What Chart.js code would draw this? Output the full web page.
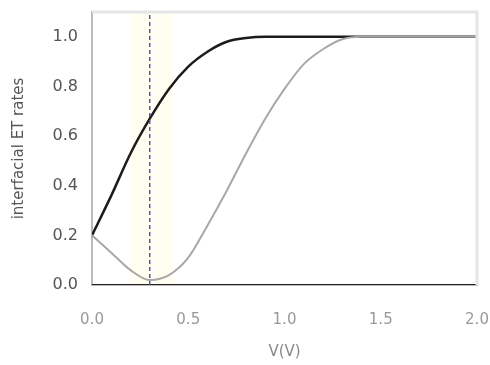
<!DOCTYPE html>
<html>
<head>
<meta charset="utf-8">
<script src="https://cdn.jsdelivr.net/npm/chart.js@4/dist/chart.umd.min.js"></script>
<style>
  html, body { margin: 0; padding: 0; background: #fff; }
</style>
</head>
<body>
<canvas id="etChart" width="490" height="365"></canvas>
<script>
// potential (V) sample points
const voltage = [0.0, 0.1, 0.2, 0.3, 0.4, 0.5, 0.6, 0.7, 0.8, 0.9, 1.0, 1.1, 1.2, 1.3, 1.4, 1.5, 1.6, 1.7, 1.8, 1.9, 2.0];
// normalized interfacial ET rates
const rateFast = [0.20, 0.36, 0.53, 0.67, 0.79, 0.88, 0.94, 0.98, 0.995, 1.0, 1.0, 1.0, 1.0, 1.0, 1.0, 1.0, 1.0, 1.0, 1.0, 1.0, 1.0];
const rateSlow = [0.20, 0.13, 0.06, 0.02, 0.04, 0.11, 0.24, 0.38, 0.53, 0.67, 0.79, 0.89, 0.95, 0.99, 1.0, 1.0, 1.0, 1.0, 1.0, 1.0, 1.0];
const rateZero = [0, 0, 0, 0, 0, 0, 0, 0, 0, 0, 0, 0, 0, 0, 0, 0, 0, 0, 0, 0, 0];
// marker potential and shaded window
const markerV = 0.3;
const bandV = [0.2, 0.42];
const xTicks = [0.0, 0.5, 1.0, 1.5, 2.0];
const yTicks = [0.0, 0.2, 0.4, 0.6, 0.8, 1.0];

const toPoints = (ys) => voltage.map((v, i) => ({ x: v, y: ys[i] }));

const bandPlugin = {
    id: 'band',
    beforeDatasetsDraw(chart) {
        const { ctx, chartArea, scales } = chart;
        const x0 = scales.x.getPixelForValue(bandV[0]);
        const x1 = scales.x.getPixelForValue(bandV[1]);
        ctx.save();
        ctx.fillStyle = 'rgba(255, 252, 215, 0.35)';
        ctx.fillRect(x0, chartArea.top, x1 - x0, chartArea.bottom - chartArea.top);
        ctx.restore();
    }
};

new Chart('etChart', {
    type: 'line',
    data: {
        datasets: [
            {
                data: [{ x: markerV, y: 0 }, { x: markerV, y: 1.1 }],
                borderColor: '#4a4ac0',
                borderWidth: 1.4,
                borderDash: [4, 3],
                pointRadius: 0,
                tension: 0
            },
            {
                data: toPoints(rateSlow),
                borderColor: '#a8a8a8',
                borderWidth: 2,
                pointRadius: 0,
                cubicInterpolationMode: 'monotone'
            },
            {
                data: toPoints(rateFast),
                borderColor: '#1c1c1c',
                borderWidth: 2.5,
                pointRadius: 0,
                cubicInterpolationMode: 'monotone'
            },
            {
                data: toPoints(rateZero),
                borderColor: '#222',
                borderWidth: 2,
                pointRadius: 0
            }
        ]
    },
    options: {
        responsive: false,
        animation: false,
        layout: { padding: { left: 6, right: 13, top: 12, bottom: 0 } },
        plugins: { legend: { display: false }, tooltip: { enabled: false } },
        scales: {
            x: {
                type: 'linear',
                min: 0,
                max: 2,
                afterBuildTicks: (axis) => { axis.ticks = xTicks.map(v => ({ value: v })); },
                afterFit: (axis) => {
                    axis.height = 80;
                    axis.paddingLeft = 0;
                    axis.paddingRight = 0;
                },
                grid: { display: false, drawTicks: false },
                border: { color: '#bbb', width: 1 },
                ticks: {
                    color: '#999',
                    padding: 26,
                    font: { family: 'DejaVu Sans', size: 15 },
                    callback: (v) => v.toFixed(1)
                },
                title: {
                    display: true,
                    text: 'V(V)',
                    color: '#888',
                    padding: { top: 2 },
                    font: { family: 'DejaVu Sans', size: 15 }
                }
            },
            y: {
                min: 0,
                max: 1.1,
                afterBuildTicks: (axis) => { axis.ticks = yTicks.map(v => ({ value: v })); },
                afterFit: (axis) => {
                    axis.width = 86;
                    axis.paddingTop = 0;
                    axis.paddingBottom = 0;
                },
                grid: { display: false, drawTicks: false },
                border: { color: '#bbb', width: 2 },
                ticks: {
                    color: '#555',
                    padding: 14,
                    font: { family: 'DejaVu Sans', size: 16 },
                    callback: (v) => v.toFixed(1)
                },
                title: {
                    display: true,
                    text: 'interfacial ET rates',
                    color: '#555',
                    padding: { bottom: 2 },
                    font: { family: 'DejaVu Sans', size: 15 }
                }
            }
        }
    },
    plugins: [bandPlugin, {
        id: 'frame',
        afterDraw(chart) {
            const { ctx, chartArea } = chart;
            ctx.save();
            ctx.strokeStyle = '#e6e6e6';
            ctx.lineWidth = 3;
            ctx.beginPath();
            ctx.moveTo(chartArea.left, chartArea.top);
            ctx.lineTo(chartArea.right, chartArea.top);
            ctx.lineTo(chartArea.right, chartArea.bottom);
            ctx.stroke();
            ctx.restore();
        }
    }]
});
</script>
</body>
</html>
